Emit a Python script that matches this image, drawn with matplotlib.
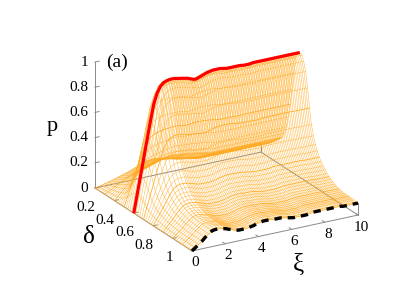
import numpy as np
import matplotlib
matplotlib.use("Agg")
import matplotlib.pyplot as plt
from mpl_toolkits.mplot3d import proj3d

plt.rcParams['font.family'] = ['Liberation Serif', 'DejaVu Serif']

W, H = 409, 286
xi = [i * 0.2 for i in range(10)] + [2 + i * 0.1 for i in range(81)]
delta = [i * 0.02 for i in range(51)]

# p along the ridge (red, delta=0.4)
ridge = [0, .14, .28, .42, .56, .70, .83, .91, .96, .985,
         .995, .998, 1.0, 1.0, 1.0, .998, .995, .993, .99, .988,
         .985, .982, .98, .975, .97, .965, .96, .958, .96, .965,
         .97, .975, .98, .985, .99, .993, .995, .998, 1.0, 1.0,
         1.0, 1.0, 1.0, .998, .995, .993, .99, .99, .99, .99,
         .99, .99, .99, .99, .99, .988, .986, .985, .985, .985,
         .986, .988, .99, .99, .99, .99, .99, .99, .99, .99,
         .99, .99, .99, .99, .99, .99, .99, .99, .99, .99,
         .99, .99, .99, .99, .99, .99, .99, .99, .99, .99, .99]
# p along the front edge (black, delta=1)
front = [0, .02, .04, .06, .085, .105, .125, .13, .13, .125,
         .12, .115, .11, .105, .10, .095, .09, .088, .085, .085,
         .085, .085, .085, .085, .087, .09, .093, .095, .10, .105,
         .108, .11, .112, .115, .115, .115, .115, .115, .113, .11,
         .11, .11, .11, .11, .108, .105, .103, .10, .098, .095,
         .093, .09, .09, .09, .09, .09, .09, .09, .09, .09,
         .093, .095, .098, .10, .10, .10, .10, .10, .10, .10,
         .10, .10, .10, .10, .10, .10, .10, .10, .10, .10,
         .098, .095, .095, .095, .095, .095, .095, .095, .095, .095, .095]
# p along the rear edge (delta=0)
rear = [0, .005, .01, .018, .024, .03, .038, .046, .054, .062,
        .07, .075, .08, .085, .09, .095, .10, .105, .11, .115,
        .12, .122, .125, .128, .13, .13, .13, .128, .125, .122,
        .12, .118, .115, .112, .11, .105, .10, .098, .095, .092,
        .09, .088, .085, .082, .08, .078, .075, .072, .07, .07,
        .07, .07, .07, .07, .07, .07, .07, .07, .07, .07,
        .07, .07, .07, .07, .07, .07, .07, .07, .07, .07,
        .07, .07, .07, .07, .07, .07, .07, .07, .07, .07,
        .07, .07, .07, .07, .07, .07, .07, .07, .07, .07, .07]
# p across delta at xi=10
profile = [.07, .08, .09, .10, .11, .125, .14, .155, .17, .19,
           .21, .23, .27, .33, .42, .53, .66, .80, .93, .985,
           .99, .98, .94, .87, .75, .60, .48, .40, .34, .30,
           .26, .235, .21, .19, .17, .155, .145, .135, .125, .118,
           .11, .108, .105, .103, .102, .10, .10, .10, .10, .095, .095]

xi_arr = np.array(xi); d_arr = np.array(delta)
ridge_a, front_a, rear_a, prof = map(np.array, (ridge, front, rear, profile))
ridge_i = 20
# share of the ridge curve at each delta, from the profile read at xi=10
share = np.where(d_arr <= 0.4, (prof - rear[-1]) / (ridge[-1] - rear[-1]),
                 (prof - front[-1]) / (ridge[-1] - front[-1]))
edge = np.where(d_arr[:, None] <= 0.4, rear_a[None, :], front_a[None, :])
P = share[:, None] * ridge_a[None, :] + (1 - share[:, None]) * edge

fig = plt.figure(figsize=(W / 100, H / 100), dpi=100)
ax = fig.add_axes([0, 0, 1, 1], projection='3d', computed_zorder=False)
ax.set_proj_type('ortho')
ax.view_init(elev=22, azim=-120)
ax.set_axis_off()
ax.patch.set_alpha(0)

GREY = '#8a8a8a'
def L(xs, ys, zs, **kw):
    kw.setdefault('clip_on', False)
    ax.plot(xs, ys, zs, **kw)

# box
grey = dict(color=GREY, lw=0.7, zorder=1)
L([0, 10], [1, 1], [0, 0], **grey)
L([0, 0], [0, 1], [0, 0], **grey)
L([10, 10], [0, 1], [0, 0], **grey)
L([0, 10], [0, 0], [0, 0], **grey)
L([0, 0], [0, 0], [0, 1], **grey)
L([10, 10], [1, 1], [0, front[-1]], **grey)
L([10, 10], [0, 0], [0, rear[-1]], **grey)
z_ticks = [0, .2, .4, .6, .8, 1]
d_ticks = [.2, .4, .6, .8, 1]
x_ticks = [0, 2, 4, 6, 8, 10]
for z in z_ticks:
    L([0, .25], [0, 0], [z, z], **grey)
for d in d_ticks:
    L([0, .25], [d, d], [0, 0], **grey)
for x in x_ticks:
    L([x, x], [1, .975], [0, 0], **grey)

# mesh
MESH = '#ffb02e'
for j, x in enumerate(xi):
    L([x] * len(delta), delta, P[:, j], color=MESH, lw=0.36, zorder=2, alpha=.9)
for i, d in enumerate(delta):
    dark = i % 5 == 0
    L(xi, [d] * len(xi), P[i], color='#ffa81f' if dark else MESH,
      lw=0.6 if dark else 0.36, zorder=3 if dark else 2, alpha=.9)

L(xi, [delta[ridge_i]] * len(xi), ridge, color='#ff0000', lw=2.3, zorder=5,
  solid_capstyle='butt')
L(xi, [1] * len(xi), front, color='black', lw=2.4, zorder=6,
  linestyle=(0, (2.2, 1.8)))

ax.set_xlim(0, 10); ax.set_ylim(1, 0); ax.set_zlim(0, 1)

A = (0, 0, 0); B = (10, 1, 0)
target_A = np.array([95., 188.]); target_B = np.array([358., 215.])
def to_px(x, y, z):
    u, v, _ = proj3d.proj_transform(x, y, z, ax.get_proj())
    px, py = ax.transData.transform((u, v))
    return np.array([px, H - py])

zoom = 1.0
aspect = (191.7, 194, 135.9)
for _ in range(3):
    ax.set_box_aspect(aspect, zoom=zoom)
    fig.canvas.draw()
    zoom *= np.linalg.norm(target_B - target_A) / np.linalg.norm(to_px(*B) - to_px(*A))
ax.set_box_aspect(aspect, zoom=zoom)
fig.canvas.draw()
shift = target_A - to_px(*A)
ax.set_position([shift[0] / W, -shift[1] / H, 1, 1])
fig.canvas.draw()

def T(px, py, s, size=11, ha='center', va='center', **kw):
    fig.text(px / W, 1 - py / H, s, fontsize=size, ha=ha, va=va, color='black', **kw)

for z in z_ticks:
    p = to_px(0, 0, z)
    T(p[0] - 7, p[1], f'{z:g}', ha='right')
for d in d_ticks:
    p = to_px(0, d, 0)
    T(p[0] - 19, p[1] + 7, f'{d:g}', ha='right')
for x in x_ticks:
    p = to_px(x, 1, 0)
    T(p[0] + 3, p[1] + 12, f'{x:g}')
T(52, 127, 'p', size=16)
T(89, 237, 'δ', size=18)
T(298, 265, 'ξ', size=18)
T(106, 62, '(a)', size=14, ha='left')

fig.savefig('out.png', dpi=100)
